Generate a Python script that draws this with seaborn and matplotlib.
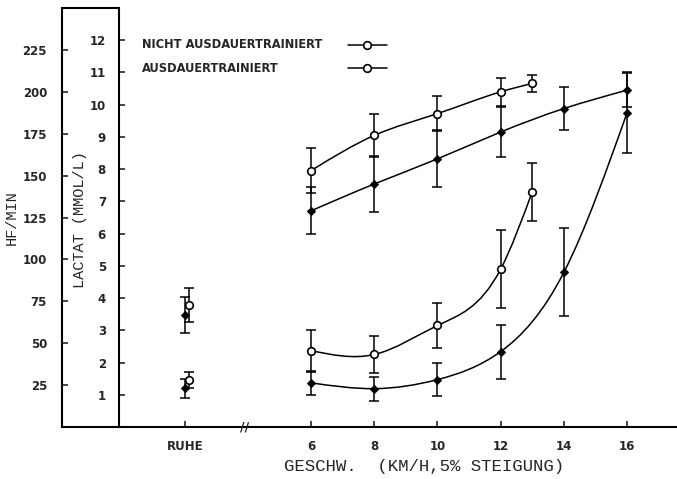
import numpy as np
import pandas as pd
import matplotlib
matplotlib.use("Agg")
import matplotlib.pyplot as plt
from matplotlib.path import Path
from matplotlib.patches import PathPatch
from matplotlib.lines import Line2D
import matplotlib.transforms as mtransforms
import seaborn as sns

# ---------------- data ----------------
speeds_nicht = [6, 8, 10, 12, 13]
speeds_aus = [6, 8, 10, 12, 14, 16]
hf_nicht = [153, 174, 187, 200, 205]
hf_nicht_err = [13.5, 13, 10.5, 8.5, 5]
hf_aus = [129, 145, 160, 176, 190, 201]
hf_aus_err = [14, 16.5, 17, 15, 13, 10]
lac_nicht = [2.37, 2.25, 3.15, 4.9, 7.3]
lac_nicht_err = [0.65, 0.56, 0.69, 1.2, 0.9]
lac_aus = [1.37, 1.19, 1.47, 2.34, 4.8, 9.75]
lac_aus_err = [0.37, 0.37, 0.52, 0.84, 1.36, 1.25]
ruhe_pos = 2
ruhe_hf_nicht, ruhe_hf_nicht_err = 72.7, 10
ruhe_hf_aus, ruhe_hf_aus_err = 66.8, 11
ruhe_lac_nicht, ruhe_lac_nicht_err = 1.45, 0.25
ruhe_lac_aus, ruhe_lac_aus_err = 1.2, 0.3
x_ticks = [2, 6, 8, 10, 12, 14, 16]
x_ticklabels = ["RUHE", "6", "8", "10", "12", "14", "16"]
hf_ticks = [25, 50, 75, 100, 125, 150, 175, 200, 225]
lac_ticks = list(range(1, 13))
legend_labels = ["NICHT AUSDAUERTRAINIERT", "AUSDAUERTRAINIERT"]

# ---------------- style ----------------
sns.set_style("ticks")
plt.rcParams["font.family"] = ["DejaVu Sans"]
BOLD = dict(fontweight="bold", fontsize=8.5)
MONO = ["Liberation Mono", "DejaVu Sans Mono"]
LW = 1.1
AXLW = 1.5
W, H = 677, 479

fig = plt.figure(figsize=(6.77, 4.79), dpi=100)
ax = fig.add_axes([119 / W, 52 / H, 558 / W, 419 / H])
ax_hf = ax.twinx()

for a in (ax, ax_hf):
    a.set_facecolor("none")
    for s in a.spines.values():
        s.set_linewidth(AXLW)
        s.set_color("black")
ax.spines["top"].set_visible(False)
ax.spines["right"].set_visible(False)
ax_hf.spines["top"].set_visible(False)
ax_hf.spines["right"].set_visible(False)
ax_hf.spines["bottom"].set_visible(False)
ax_hf.spines["left"].set_visible(True)
ax_hf.spines["left"].set_position(("axes", -57 / 558))
ax_hf.yaxis.set_ticks_position("left")
ax_hf.yaxis.set_label_position("left")


def spline_slopes(xs, ys):
    x = np.asarray(xs, float)
    y = np.asarray(ys, float)
    n = len(x)
    h = np.diff(x)
    A = np.zeros((n, n))
    b = np.zeros(n)
    A[0, 0] = A[-1, -1] = 1.0
    for i in range(1, n - 1):
        A[i, i - 1] = h[i - 1]
        A[i, i] = 2 * (h[i - 1] + h[i])
        A[i, i + 1] = h[i]
        b[i] = 6 * ((y[i + 1] - y[i]) / h[i] - (y[i] - y[i - 1]) / h[i - 1])
    M = np.linalg.solve(A, b)
    m = np.zeros(n)
    for i in range(n - 1):
        m[i] = (y[i + 1] - y[i]) / h[i] - h[i] * (2 * M[i] + M[i + 1]) / 6
    m[-1] = (y[-1] - y[-2]) / h[-1] + h[-1] * (M[-2] + 2 * M[-1]) / 6
    return x, y, h, m


def smooth(axis, xs, ys):
    x, y, h, m = spline_slopes(xs, ys)
    verts = [(x[0], y[0])]
    codes = [Path.MOVETO]
    for i in range(len(x) - 1):
        verts += [(x[i] + h[i] / 3, y[i] + h[i] * m[i] / 3),
                  (x[i + 1] - h[i] / 3, y[i + 1] - h[i] * m[i + 1] / 3),
                  (x[i + 1], y[i + 1])]
        codes += [Path.CURVE4] * 3
    axis.add_patch(PathPatch(Path(verts, codes), facecolor="none", edgecolor="black",
                             lw=LW, transform=axis.transData, zorder=2))


def errbars(axis, xs, ys, es):
    axis.errorbar(xs, ys, yerr=es, fmt="none", ecolor="black", elinewidth=LW,
                  capsize=3.3, capthick=LW, zorder=2)


def marks(axis, xs, ys, open_marker):
    df = pd.DataFrame({"x": xs, "y": ys})
    if open_marker:
        sns.scatterplot(data=df, x="x", y="y", ax=axis, marker="o", s=30,
                        facecolor="white", edgecolor="black", linewidth=1.2,
                        zorder=4, legend=False)
    else:
        sns.scatterplot(data=df, x="x", y="y", ax=axis, marker="D", s=16,
                        color="black", edgecolor="black", linewidth=0.8,
                        zorder=4, legend=False)


# heart rate curves
smooth(ax_hf, speeds_nicht, hf_nicht)
errbars(ax_hf, speeds_nicht, hf_nicht, hf_nicht_err)
marks(ax_hf, speeds_nicht, hf_nicht, True)
smooth(ax_hf, speeds_aus, hf_aus)
errbars(ax_hf, speeds_aus, hf_aus, hf_aus_err)
marks(ax_hf, speeds_aus, hf_aus, False)

# lactate curves
smooth(ax, speeds_nicht, lac_nicht)
errbars(ax, speeds_nicht, lac_nicht, lac_nicht_err)
marks(ax, speeds_nicht, lac_nicht, True)
smooth(ax, speeds_aus, lac_aus)
errbars(ax, speeds_aus, lac_aus, lac_aus_err)
marks(ax, speeds_aus, lac_aus, False)

# rest values
dx = 0.13
errbars(ax_hf, [ruhe_pos + dx], [ruhe_hf_nicht], [ruhe_hf_nicht_err])
errbars(ax_hf, [ruhe_pos], [ruhe_hf_aus], [ruhe_hf_aus_err])
marks(ax_hf, [ruhe_pos + dx], [ruhe_hf_nicht], True)
marks(ax_hf, [ruhe_pos], [ruhe_hf_aus], False)
errbars(ax, [ruhe_pos + dx], [ruhe_lac_nicht], [ruhe_lac_nicht_err])
errbars(ax, [ruhe_pos], [ruhe_lac_aus], [ruhe_lac_aus_err])
marks(ax, [ruhe_pos + dx], [ruhe_lac_nicht], True)
marks(ax, [ruhe_pos], [ruhe_lac_aus], False)

ax.set_xlim(-0.08, 17.58)
ax.set_ylim(0, 13)
ax_hf.set_ylim(0, 250)

# ticks
ax.set_xticks(x_ticks)
ax.set_xticklabels(x_ticklabels, **BOLD)
ax.set_yticks(lac_ticks)
ax.set_yticklabels([str(t) for t in lac_ticks], **BOLD)
ax_hf.set_yticks(hf_ticks)
ax_hf.set_yticklabels([str(t) for t in hf_ticks], **BOLD)
ax.set_xlabel("GESCHW.  (KM/H,5% STEIGUNG)", family=MONO, fontsize=12.5)
ax.xaxis.set_label_coords((424 - 119) / 558, -(466 - 427) / 419)
ax.xaxis.label.set_va("center")
ax.set_ylabel("")
ax_hf.set_ylabel("")
ax.tick_params(axis="x", direction="in", length=4, width=1.2, pad=9)
ax.tick_params(axis="y", direction="in", length=4, width=1.2, pad=9.5)
ax_hf.tick_params(axis="y", direction="in", length=4, width=1.2, pad=11)

fig.text(80 / W, 1 - 220 / H, "LACTAT (MMOL/L)", rotation=90, family=MONO,
         fontsize=11, ha="center", va="center")
fig.text(12 / W, 1 - 218 / H, "HF/MIN", rotation=90, family=MONO,
         fontsize=11, ha="center", va="center")

# axis break marker
trans = mtransforms.blended_transform_factory(ax.transData, ax.transAxes)
ax.text(3.9, 0.0, "//", transform=trans, ha="center", va="center",
        fontsize=9, fontweight="bold", clip_on=False, zorder=5)

# outer frame pieces between the two vertical axes
for yy in (427, 8):
    fig.add_artist(Line2D([62 / W, 119 / W], [1 - yy / H, 1 - yy / H],
                          transform=fig.transFigure, color="black", lw=AXLW))

# legend
for i, lab in enumerate(legend_labels):
    yl = 1 - (45 + 23 * i) / H
    fig.text(142 / W, yl, lab, fontsize=8.3, fontweight="bold", ha="left", va="center")
    fig.add_artist(Line2D([348 / W, 387 / W], [yl, yl], transform=fig.transFigure,
                          color="black", lw=LW))
    fig.add_artist(Line2D([367 / W], [yl], transform=fig.transFigure, marker="o",
                          markersize=5.5, markerfacecolor="white",
                          markeredgecolor="black", markeredgewidth=1.2))

# fine-tune tick label padding by measuring the rendered labels
fig.canvas.draw()
r = fig.canvas.get_renderer()
targets = [(ax_hf, "y", 11.0, 47.0), (ax, "y", 9.5, 106.0)]
for a, axn, pad, target_right in targets:
    labs = [t for t in a.yaxis.get_ticklabels() if t.get_visible() and t.get_text()]
    right = max(t.get_window_extent(r).x1 for t in labs)
    newpad = pad + (right - target_right) * 72 / 100
    a.tick_params(axis="y", pad=newpad)
fig.canvas.draw()

fig.savefig("out.png", dpi=100)
